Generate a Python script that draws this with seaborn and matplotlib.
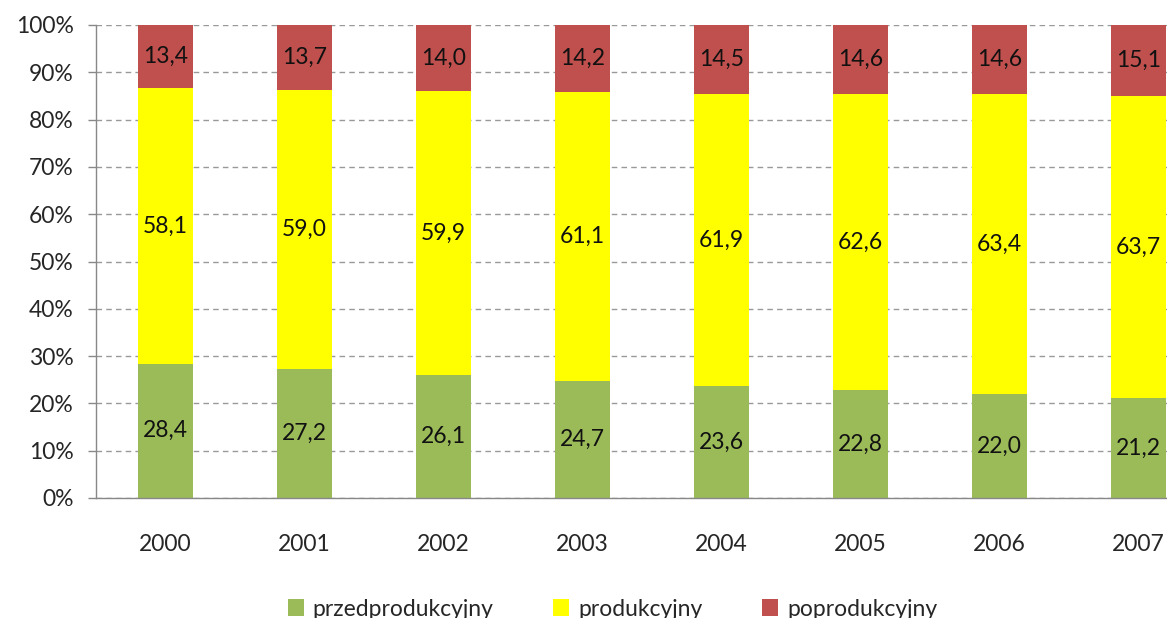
import numpy as np
import pandas as pd
import matplotlib.pyplot as plt
import seaborn as sns
from matplotlib.patches import Patch

years = ["2000", "2001", "2002", "2003", "2004", "2005", "2006", "2007"]
przed = [28.4, 27.2, 26.1, 24.7, 23.6, 22.8, 22.0, 21.2]
prod = [58.1, 59.0, 59.9, 61.1, 61.9, 62.6, 63.4, 63.7]
po = [13.4, 13.7, 14.0, 14.2, 14.5, 14.6, 14.6, 15.1]

names = ["przedprodukcyjny", "produkcyjny", "poprodukcyjny"]
colors = ["#9BBB59", "#FFFF00", "#C0504D"]

sns.set_theme(style="white")
plt.rcParams["font.family"] = ["Lato", "DejaVu Sans"]

df = pd.DataFrame({"rok": years, "przed": przed, "prod": prod, "po": po})
total = df["przed"] + df["prod"] + df["po"]
# udzialy w % (normalizacja do 100)
df["c1"] = df["przed"] / total * 100
df["c2"] = (df["przed"] + df["prod"]) / total * 100
df["c3"] = 100.0

fig = plt.figure(figsize=(11.67, 6.18), dpi=100)
ax = fig.add_axes([96 / 1167, 1 - 498 / 618, 1 - 96 / 1167, (498 - 25) / 618])

ax.set_axisbelow(True)
ax.yaxis.grid(True, linestyle=(0, (4, 3)), color="#999999", linewidth=1)

for col, c in zip(["c3", "c2", "c1"], colors[::-1]):
    sns.barplot(data=df, x="rok", y=col, color=c, width=0.4, saturation=1,
                ax=ax, edgecolor="none")

# etykiety wartosci
for i in range(len(years)):
    segs = [(0, df["c1"][i], przed[i]), (df["c1"][i], df["c2"][i], prod[i]),
            (df["c2"][i], 100, po[i])]
    for lo, hi, v in segs:
        ax.text(i, (lo + hi) / 2, f"{v:.1f}".replace(".", ","),
                ha="center", va="center", fontsize=16.5, color="#111111")

ax.set_ylim(0, 100)
ax.set_yticks(np.arange(0, 101, 10))
ax.set_yticklabels([f"{t}%" for t in range(0, 101, 10)], fontsize=16.5)
ax.set_xlabel("")
ax.set_ylabel("")

ax.tick_params(axis="x", which="major", length=0, pad=26, labelsize=16.5)
ax.set_xticks(np.arange(-0.5, 8, 1), minor=True)
ax.tick_params(axis="x", which="minor", length=6, color="#888888", width=1,
               direction="out")
ax.tick_params(axis="y", length=6, color="#888888", width=1, direction="out",
               left=True, pad=10)
# prawa krawedz przycieta jak w oryginale
ax.set_xlim(-0.5, (1167 - 96) / 139 - 0.5)

for s in ["top", "right"]:
    ax.spines[s].set_visible(False)
for s in ["left", "bottom"]:
    ax.spines[s].set_color("#888888")
    ax.spines[s].set_linewidth(1)

handles = [Patch(facecolor=c, edgecolor="none") for c in colors]
fig.legend(handles, names, loc="center", bbox_to_anchor=(0.525, 1 - 609 / 618),
           ncol=3, frameon=False, fontsize=16.5, handlelength=0.7,
           handleheight=0.7, columnspacing=2.6, handletextpad=0.4)

fig.savefig("out.png", dpi=100)
